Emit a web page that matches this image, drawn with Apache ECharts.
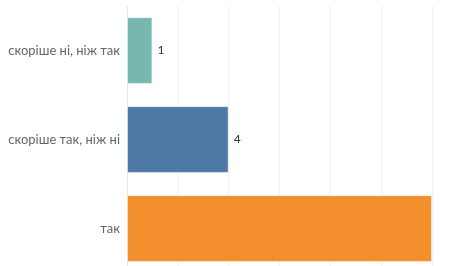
<!DOCTYPE html>
<html>
<head>
<meta charset="utf-8">
<script src="https://cdn.jsdelivr.net/npm/echarts@6/dist/echarts.min.js"></script>
<style>
  html, body { margin: 0; padding: 0; background: #fff; }
  #chart { width: 456px; height: 266px; }
</style>
</head>
<body>
<div id="chart"></div>
<script>
const categories = ['скоріше ні, ніж так', 'скоріше так, ніж ні', 'так']
const values = [1, 4, 12]
const barColors = ['#78b6b0', '#4e78a6', '#f28e2c']
const showLabel = [true, true, false]

let chart = echarts.init(document.getElementById('chart'))
let option = {
  animation: false,
  grid: { left: 127, top: 6, width: 305, height: 267, outerBoundsMode: 'none' },
  xAxis: {
    type: 'value',
    min: 0,
    max: 12,
    interval: 2,
    axisLabel: { show: false },
    axisTick: { show: false },
    axisLine: { show: false },
    splitLine: { lineStyle: { color: '#f0f0f0', width: 1 } }
  },
  yAxis: {
    type: 'category',
    inverse: true,
    data: categories,
    axisTick: { show: false },
    axisLine: { lineStyle: { color: '#e6e6e6', width: 1 } },
    axisLabel: {
      color: '#666',
      fontFamily: 'Lato',
      fontSize: 13,
      margin: 7
    }
  },
  series: [{
    type: 'bar',
    barWidth: '75%',
    data: values.map((v, i) => ({
      value: v,
      itemStyle: { color: barColors[i], borderColor: 'rgba(255,255,255,0.5)', borderWidth: 1 },
      label: { show: showLabel[i] }
    })),
    label: {
      position: 'right',
      distance: 5,
      color: '#333',
      fontFamily: 'Lato',
      fontSize: 12
    }
  }]
}
chart.setOption(option)
</script>
</body>
</html>
